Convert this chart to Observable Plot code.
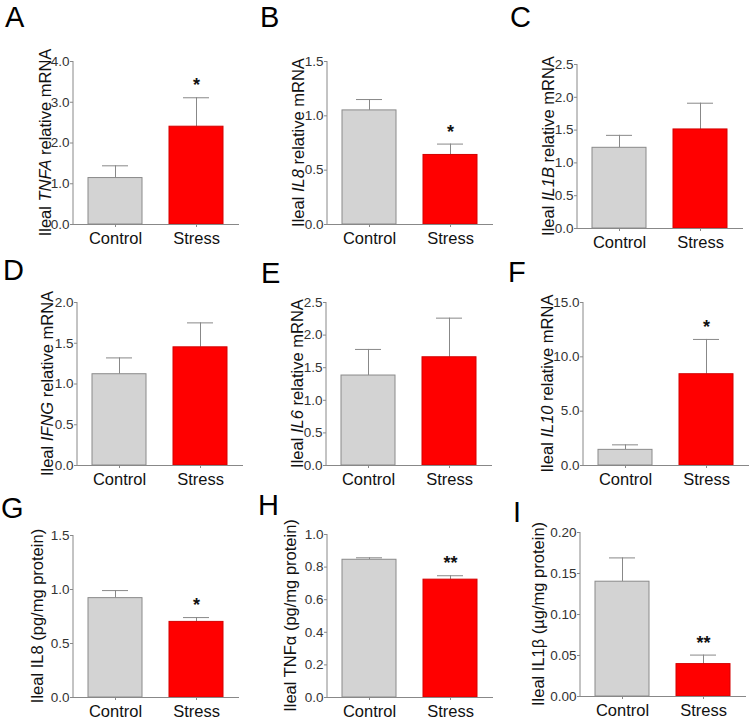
<!DOCTYPE html>
<html>
<head>
<meta charset="utf-8">
<script src="https://cdn.jsdelivr.net/npm/d3@7"></script>
<script src="https://cdn.jsdelivr.net/npm/@observablehq/plot@0.6"></script>
<style>
  body { margin: 0; background: #fff; font-family: "Liberation Sans", Arial, Helvetica, sans-serif; }
  #fig { position: relative; width: 750px; height: 719px; overflow: hidden; background: #fff; }
  .panel { position: absolute; }
  .letter { position: absolute; font-size: 29px; line-height: 1; color: #000; }
</style>
</head>
<body>
<div id="fig"></div>
<script>
// ---------- data ----------
const categories = ["Control", "Stress"];
const panelLetters = ["A", "B", "C", "D", "E", "F", "G", "H", "I"];
const controlMean  = [1.14, 1.05, 1.23, 1.12, 1.38, 1.44, 0.92, 0.845, 0.140];
const controlUpper = [1.44, 1.15, 1.42, 1.32, 1.78, 1.90, 0.99, 0.857, 0.169];
const stressMean   = [2.40, 0.64, 1.51, 1.45, 1.66, 8.40, 0.70, 0.723, 0.0395];
const stressUpper  = [3.11, 0.74, 1.91, 1.75, 2.26, 11.6, 0.74, 0.747, 0.0505];
const significance = ["*", "*", "", "", "", "*", "*", "**", "**"];
const yTicks = [
  [0, 1, 2, 3, 4],
  [0, 0.5, 1, 1.5],
  [0, 0.5, 1, 1.5, 2, 2.5],
  [0, 0.5, 1, 1.5, 2],
  [0, 0.5, 1, 1.5, 2, 2.5],
  [0, 5, 10, 15],
  [0, 0.5, 1, 1.5],
  [0, 0.2, 0.4, 0.6, 0.8, 1.0],
  [0, 0.05, 0.10, 0.15, 0.20]
];
const tickFormats = [".1f", ".1f", ".1f", ".1f", ".1f", ".1f", ".1f", ".1f", ".2f"];
// y titles: [text, italic?]
const yTitles = [
  [["Ileal ", false], ["TNFA", true], [" relative mRNA", false]],
  [["Ileal ", false], ["IL8", true], [" relative mRNA", false]],
  [["Ileal ", false], ["IL1B", true], [" relative mRNA", false]],
  [["Ileal ", false], ["IFNG", true], [" relative mRNA", false]],
  [["Ileal ", false], ["IL6", true], [" relative mRNA", false]],
  [["Ileal ", false], ["IL10", true], [" relative mRNA", false]],
  [["Ileal IL8 (pg/mg protein)", false]],
  [["Ileal TNFα (pg/mg protein)", false]],
  [["Ileal IL1β (µg/mg protein)", false]]
];

// ---------- layout (pixels, separate from data) ----------
const layout = [
  {left: 0,   top: 0,   axisX: 73, yTop: 61, yZero: 224, titleOff: 22, letter: [5, 7]},
  {left: 250, top: 0,   axisX: 77, yTop: 61, yZero: 224, titleOff: 23, letter: [10, 7]},
  {left: 500, top: 0,   axisX: 77, yTop: 64, yZero: 228, titleOff: 23, letter: [10, 7]},
  {left: 0,   top: 240, axisX: 77, yTop: 62, yZero: 225, titleOff: 24, letter: [3, 20]},
  {left: 250, top: 240, axisX: 76, yTop: 62, yZero: 225, titleOff: 23, letter: [11, 23]},
  {left: 500, top: 240, axisX: 83, yTop: 62, yZero: 225, titleOff: 30, letter: [8, 22]},
  {left: 0,   top: 480, axisX: 73, yTop: 55, yZero: 217, titleOff: 30, letter: [1, 18]},
  {left: 250, top: 480, axisX: 77, yTop: 54, yZero: 217, titleOff: 31, letter: [8, 15]},
  {left: 500, top: 480, axisX: 80, yTop: 52, yZero: 216, titleOff: 36, letter: [13, 22]}
];

const AXIS = "#888888";
const FONT = "'Liberation Sans', Arial, Helvetica, sans-serif";
const fig = document.getElementById("fig");

function yTitle(parts, offset) {
  return (index, scales, values, dims) => {
    const cx = dims.marginLeft - offset;
    const cy = (dims.marginTop + dims.height - dims.marginBottom) / 2;
    const t = d3.create("svg:text")
      .attr("transform", `translate(${cx},${cy}) rotate(-90)`)
      .attr("text-anchor", "middle")
      .attr("font-size", 16.5)
      .attr("font-family", FONT)
      .attr("fill", "#111");
    for (const [s, it] of parts) t.append("tspan").attr("font-style", it ? "italic" : null).text(s);
    return t.node();
  };
}

function leftLine(yMax) {
  return (index, scales, values, dims) =>
    d3.create("svg:line")
      .attr("x1", dims.marginLeft).attr("x2", dims.marginLeft)
      .attr("y1", scales.y(yMax)).attr("y2", scales.y(0))
      .attr("stroke", AXIS).node();
}

panelLetters.forEach((letter, i) => {
  const L = layout[i];
  const ticks = yTicks[i];
  const yMax = ticks[ticks.length - 1];
  const data = categories.map((c, j) => ({
    cat: c,
    mean: j === 0 ? controlMean[i] : stressMean[i],
    upper: j === 0 ? controlUpper[i] : stressUpper[i],
    sig: j === 0 ? "" : significance[i]
  }));
  const height = L.yZero + 26;
  const plot = Plot.plot({
    width: 250,
    height,
    marginLeft: L.axisX,
    marginRight: 250 - L.axisX - 166,
    marginTop: L.yTop,
    marginBottom: 26,
    style: {background: "transparent", overflow: "visible", fontFamily: FONT},
    x: {type: "band", domain: categories, paddingInner: 0.33, paddingOuter: 0.18, label: null},
    y: {domain: [0, yMax], nice: false, label: null},
    marks: [
      Plot.ruleX(data, {x: "cat", y1: "mean", y2: "upper", stroke: AXIS}),
      Plot.tickY(data, {x: "cat", y: "upper", stroke: AXIS, inset: 14}),
      Plot.barY(data.filter(d => d.cat === "Control"), {x: "cat", y: "mean", fill: "#d3d3d3", stroke: "#8a8a8a"}),
      Plot.barY(data.filter(d => d.cat === "Stress"), {x: "cat", y: "mean", fill: "#ff0000", stroke: "#d40000"}),
      Plot.text(data.filter(d => d.sig), {x: "cat", y: "upper", text: "sig", lineAnchor: "bottom", dy: -6.5, fontSize: 18, fontWeight: "bold", fill: "#111"}),
      Plot.ruleY([0], {stroke: AXIS}),
      leftLine(yMax),
      Plot.axisY({ticks, tickFormat: d3.format(tickFormats[i]), tickSize: 3, tickPadding: 1, fontSize: 13.5, stroke: AXIS, fill: "#333", label: null}),
      Plot.axisX({tickSize: 3, tickPadding: 4.5, fontSize: 16.5, stroke: AXIS, fill: "#111", label: null}),
      yTitle(yTitles[i], L.titleOff)
    ]
  });
  const wrap = document.createElement("div");
  wrap.className = "panel";
  wrap.style.left = L.left + "px";
  wrap.style.top = L.top + "px";
  wrap.appendChild(plot);
  fig.appendChild(wrap);

  const lab = document.createElement("div");
  lab.className = "letter";
  lab.textContent = letter;
  lab.style.left = (L.left + L.letter[0]) + "px";
  lab.style.top = (L.top + L.letter[1] - 3.8) + "px";
  fig.appendChild(lab);
});
</script>
</body>
</html>
